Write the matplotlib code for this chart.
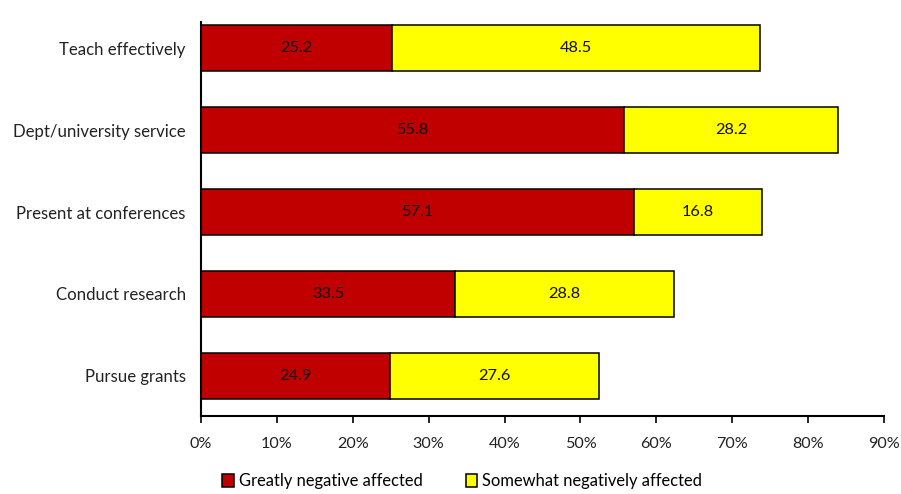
import matplotlib
matplotlib.use("Agg")
import matplotlib.pyplot as plt
from matplotlib.ticker import PercentFormatter

plt.rcParams['font.family'] = ['Lato', 'DejaVu Sans']

categories = ["Pursue grants", "Conduct research", "Present at conferences",
              "Dept/university service", "Teach effectively"]
greatly = [24.9, 33.5, 57.1, 55.8, 25.2]
somewhat = [27.6, 28.8, 16.8, 28.2, 48.5]
series_names = ["Greatly negative affected", "Somewhat negatively affected"]
colors = ["#C00000", "#FFFF00"]
x_ticks = [0, 10, 20, 30, 40, 50, 60, 70, 80, 90]

fig = plt.figure(figsize=(9.01, 4.94), dpi=100)
ax = fig.add_axes([0.2231, 0.1579, 0.758, 0.7976])

y = list(range(len(categories)))
h = 0.56
b1 = ax.barh(y, greatly, height=h, color=colors[0], edgecolor="black",
             linewidth=1.1, label=series_names[0])
b2 = ax.barh(y, somewhat, left=greatly, height=h, color=colors[1],
             edgecolor="black", linewidth=1.1, label=series_names[1])

for bars, vals, starts in ((b1, greatly, [0] * len(greatly)), (b2, somewhat, greatly)):
    for yi, v, s in zip(y, vals, starts):
        ax.text(s + v / 2, yi, f"{v:.1f}", ha="center", va="center",
                fontsize=11.8, color="#111111")

ax.set_xlim(0, 90)
ax.set_ylim(-0.49, 4.32)
ax.set_xticks(x_ticks)
ax.xaxis.set_major_formatter(PercentFormatter(decimals=0))
ax.set_yticks(y)
ax.set_yticklabels(categories)
ax.tick_params(axis="y", length=0, pad=11, labelsize=12.1, colors="#222222")
ax.tick_params(axis="x", length=5, width=1.2, direction="out", pad=10,
               labelsize=11.6, colors="black", labelcolor="#222222")
for side in ("top", "right"):
    ax.spines[side].set_visible(False)
for side in ("left", "bottom"):
    ax.spines[side].set_linewidth(1.5)

leg = fig.legend(handles=[b1, b2], labels=series_names, loc="center",
                 bbox_to_anchor=(0.513, 0.026), ncol=2, frameon=False,
                 fontsize=11.9, handlelength=0.7, handleheight=0.9,
                 handletextpad=0.3, columnspacing=2.6)

fig.savefig("out.png", dpi=100)
